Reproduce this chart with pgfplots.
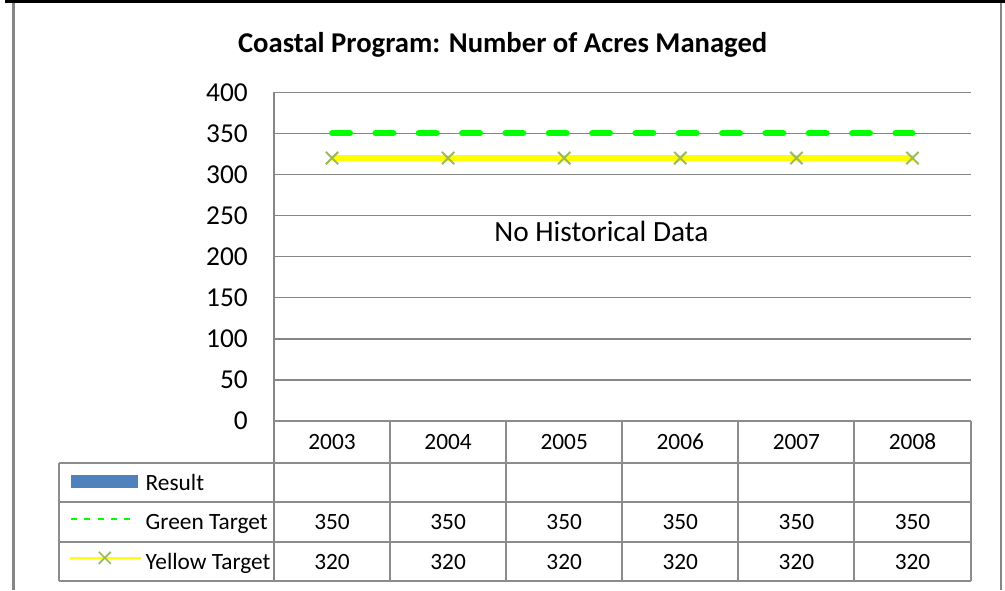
\documentclass[border=0pt]{standalone}
\usepackage{pgfplots}
\pgfplotsset{compat=1.18}
\usepackage{fontspec}
\setmainfont{Carlito}

\definecolor{gridgray}{RGB}{134,134,134}
\definecolor{tablegray}{RGB}{140,140,140}
\definecolor{tgtgreen}{RGB}{0,255,0}
\definecolor{tgtyellow}{RGB}{255,255,0}
\definecolor{markolive}{RGB}{155,187,89}
\definecolor{resblue}{RGB}{79,129,189}

\begin{document}
\begin{tikzpicture}
\useasboundingbox (0,0) rectangle (753.75pt,442.5pt);
% outer frame of the chart object
\draw[black, line width=1.9pt] (4pt,441.4pt) -- (753.75pt,441.4pt);
\draw[gridgray, line width=1.8pt] (10pt,0pt) -- (10pt,440pt);
\draw[gridgray, line width=1.5pt] (750.75pt,0pt) -- (750.75pt,440pt);
\node[font=\bfseries\fontsize{21.5}{25}\selectfont] at (377pt,408.75pt) {Coastal Program: Number of Acres Managed};

\begin{axis}[
  at={(205.5pt,126.75pt)}, anchor=south west,
  scale only axis, width=522.4pt, height=246.5pt,
  xmin=-0.5, xmax=5.5, ymin=0, ymax=400,
  ytick={0,50,...,400}, xtick=\empty,
  major tick length=0pt,
  ymajorgrids, grid style={gridgray, line width=1.1pt},
  axis line style={draw=none},
  clip=false,
  tick label style={font=\fontsize{20.5}{24}\selectfont},
  yticklabel style={inner sep=0pt, xshift=-19.5pt},
  /pgf/number format/assume math mode=true,
  legend cell align=left,
  legend style={at={(axis cs:-2.266,-51.1)}, anchor=north west,
    draw=none, fill=none, inner sep=0pt, outer sep=0pt,
    row sep=0pt, column sep=3pt,
    nodes={inner sep=0pt, text height=20.4pt, text depth=9.2pt,
      font=\fontsize{17.5}{21}\selectfont}},
]

% targets
\addplot[forget plot, tgtgreen, line width=4.5pt, line cap=round,
  dash pattern=on 13.5pt off 19pt]
  coordinates {(0,350) (1,350) (2,350) (3,350) (4,350) (5,350)};
\addplot[forget plot, tgtyellow, line width=4pt, mark=x, mark size=6.5pt,
  mark options={draw=markolive, line width=1.5pt, solid}]
  coordinates {(0,320) (1,320) (2,320) (3,320) (4,320) (5,320)};

% legend keys of the data table
\addlegendimage{legend image code/.code={\fill[resblue] (0.75pt,-3.65pt) rectangle (50.5pt,5.85pt);}}
\addlegendentry{Result}
\addlegendimage{legend image code/.code={\draw[tgtgreen, line width=1.5pt, dash pattern=on 4.5pt off 5.5pt] (0.75pt,2.2pt) -- (49.5pt,2.2pt);}}
\addlegendentry{Green Target}
\addlegendimage{legend image code/.code={%
  \draw[tgtyellow, line width=1.3pt] (0pt,2.85pt) -- (53.25pt,2.85pt);
  \draw[markolive, line width=1.3pt] (21.75pt,-1.65pt) -- (30.75pt,7.35pt) (21.75pt,7.35pt) -- (30.75pt,-1.65pt);}}
\addlegendentry{Yellow Target}

\node[font=\fontsize{22}{26}\selectfont] at (axis cs:2.32,230.8) {No Historical Data};

% data table
\draw[gridgray, line width=1.6pt] (axis cs:-0.5,400) -- (axis cs:-0.5,-194.6);
\draw[tablegray, line width=1.5pt]
  (axis cs:-0.5,0) -- (axis cs:5.5,0)
  (axis cs:-2.352,-51.1) -- (axis cs:5.5,-51.1)
  (axis cs:-2.352,-99.1) -- (axis cs:5.5,-99.1)
  (axis cs:-2.352,-147.2) -- (axis cs:5.5,-147.2)
  (axis cs:-2.352,-194.6) -- (axis cs:5.5,-194.6)
  (axis cs:-2.352,-51.1) -- (axis cs:-2.352,-194.6)
  (axis cs:5.5,0) -- (axis cs:5.5,-194.6);
\pgfplotsinvokeforeach{0,...,4}{
  \draw[tablegray, line width=1.5pt] (axis cs:#1+0.5,0) -- (axis cs:#1+0.5,-194.6);
}
\pgfplotsinvokeforeach{0,...,5}{
  \node[font=\fontsize{17.5}{21}\selectfont] at (axis cs:#1,-25.5) {\the\numexpr2003+#1\relax};
  \node[font=\fontsize{17.5}{21}\selectfont] at (axis cs:#1,-123.2) {350};
  \node[font=\fontsize{17.5}{21}\selectfont] at (axis cs:#1,-171) {320};
}
\end{axis}
\end{tikzpicture}
\end{document}
